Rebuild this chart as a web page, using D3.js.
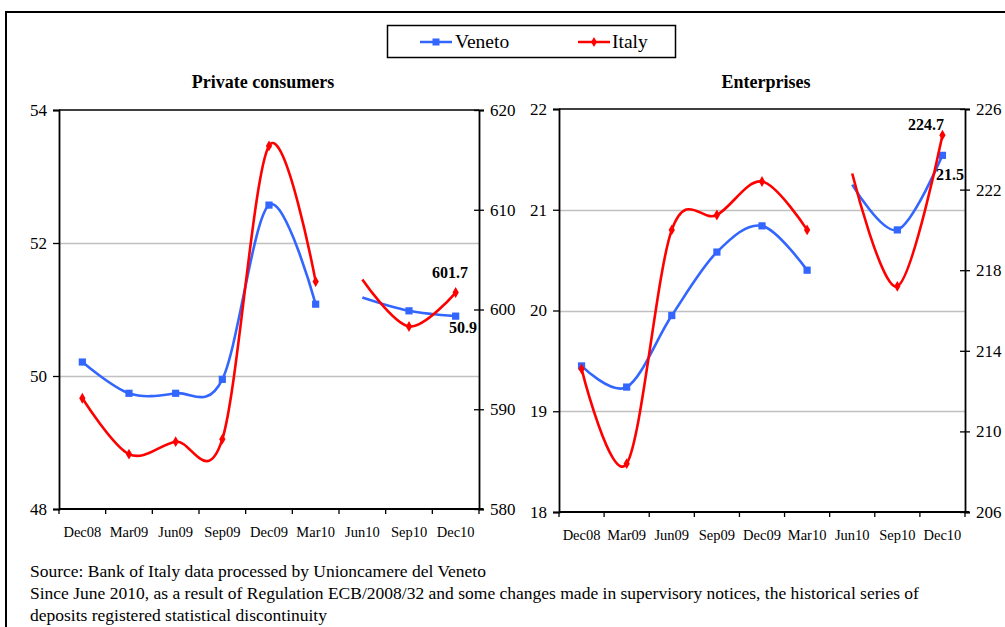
<!DOCTYPE html>
<html>
<head>
<meta charset="utf-8">
<script src="https://cdn.jsdelivr.net/npm/d3@7"></script>
<style>
  body { margin: 0; background: #fff; }
  svg text { font-family: "Liberation Serif", "DejaVu Serif", serif; }
</style>
</head>
<body>
<div id="chart"></div>
<script>
// quarters on the x axis
var quarters = ["Dec08", "Mar09", "Jun09", "Sep09", "Dec09", "Mar10", "Jun10", "Sep10", "Dec10"];

// private consumers (Veneto on left axis, Italy on right axis)
var consVeneto = [50.21, 49.74, 49.74, 49.95, 52.57, 51.08, 51.18, 50.98, 50.9];
var consItaly  = [591.1, 585.5, 586.75, 587.0, 616.4, 602.8, 603.0, 598.3, 601.7];

// enterprises
var entVeneto = [19.45, 19.24, 19.95, 20.58, 20.84, 20.40, 21.25, 20.8, 21.54];
var entItaly  = [213.1, 208.4, 220.0, 220.74, 222.4, 220.0, 222.8, 217.2, 224.7];

// series break (regulation ECB/2008/32): new series starts at Jun10
var breakAt = 6;

var leftTicks1 = [48, 50, 52, 54], rightTicks1 = [580, 590, 600, 610, 620];
var leftTicks2 = [18, 19, 20, 21, 22], rightTicks2 = [206, 210, 214, 218, 222, 226];

var blue = "#3366ff", red = "#ff0000";
var serif = "Liberation Serif, DejaVu Serif, serif";

var width = 1005, height = 627;

var svg = d3.select("#chart").append("svg")
    .attr("width", width)
    .attr("height", height)
    .attr("font-family", serif);

// outer frame
svg.append("path")
    .attr("d", "M6,627V12H1005")
    .attr("fill", "none")
    .attr("stroke", "#000")
    .attr("stroke-width", 2);

// legend
var leg = svg.append("g");
leg.append("rect")
    .attr("x", 387.5).attr("y", 25.5).attr("width", 288).attr("height", 32)
    .attr("fill", "#fff").attr("stroke", "#000").attr("stroke-width", 1.5);
leg.append("line").attr("x1", 420).attr("x2", 452).attr("y1", 42).attr("y2", 42)
    .attr("stroke", blue).attr("stroke-width", 2.5);
leg.append("rect").attr("x", 432.5).attr("y", 38.5).attr("width", 7).attr("height", 7).attr("fill", blue);
leg.append("text").attr("x", 455).attr("y", 48).attr("font-size", 19.5).text("Veneto");
leg.append("line").attr("x1", 578).attr("x2", 610).attr("y1", 42).attr("y2", 42)
    .attr("stroke", red).attr("stroke-width", 2.5);
leg.append("path").attr("d", d3.symbol(d3.symbolDiamond, 30)()).attr("transform", "translate(594,42)").attr("fill", red);
leg.append("text").attr("x", 612).attr("y", 48).attr("font-size", 19.5).text("Italy");

// draws one panel with two y axes
function drawPanel(opt) {
  var g = svg.append("g");

  var x = d3.scaleBand().domain(quarters).range([opt.x0, opt.x1]);
  var yL = d3.scaleLinear().domain(d3.extent(opt.leftTicks)).range([opt.yBot, opt.yTop]);
  var yR = d3.scaleLinear().domain(d3.extent(opt.rightTicks)).range([opt.yBot, opt.yTop]);

  // title
  g.append("text")
      .attr("x", opt.titleX)
      .attr("y", 88)
      .attr("text-anchor", "middle")
      .attr("font-size", 18)
      .attr("font-weight", "bold")
      .text(opt.title);

  // gridlines
  g.selectAll(".grid")
    .data(opt.leftTicks.slice(1, -1))
    .enter().append("line")
      .attr("x1", opt.x0).attr("x2", opt.x1)
      .attr("y1", function(d) { return Math.round(yL(d)) + 0.5; })
      .attr("y2", function(d) { return Math.round(yL(d)) + 0.5; })
      .attr("stroke", "#c0c0c0")
      .attr("stroke-width", 1.3);

  // top border
  g.append("line")
      .attr("x1", opt.x0).attr("x2", opt.x1)
      .attr("y1", opt.yTop).attr("y2", opt.yTop)
      .attr("stroke", "#000").attr("stroke-width", 1.5);

  // left axis
  var axL = g.append("g")
      .attr("transform", "translate(" + opt.x0 + ",0)")
      .call(d3.axisLeft(yL).tickValues(opt.leftTicks).tickFormat(d3.format("d")).tickSize(6).tickPadding(6));
  // right axis, ticks cross the line
  var axR = g.append("g")
      .attr("transform", "translate(" + opt.x1 + ",0)")
      .call(d3.axisRight(yR).tickValues(opt.rightTicks).tickFormat(d3.format("d")).tickSize(5).tickPadding(6));
  axR.selectAll(".tick line").attr("x1", -5);
  // bottom axis with ticks on the category boundaries
  var axB = g.append("g")
      .attr("transform", "translate(0," + opt.yBot + ")")
      .call(d3.axisBottom(x).tickSize(0).tickPadding(18));
  g.selectAll(".xtick")
    .data(d3.range(quarters.length + 1))
    .enter().append("line")
      .attr("x1", function(i) { return opt.x0 + i * x.step(); })
      .attr("x2", function(i) { return opt.x0 + i * x.step(); })
      .attr("y1", opt.yBot).attr("y2", opt.yBot + 5)
      .attr("stroke", "#000").attr("stroke-width", 1.3);

  [axL, axR, axB].forEach(function(a) {
    a.attr("font-family", serif);
    a.select(".domain").attr("stroke-width", 1.8);
    a.selectAll(".tick line").attr("stroke-width", 1.3);
    a.selectAll("text").attr("fill", "#000");
  });
  axL.attr("font-size", 17);
  axR.attr("font-size", 17);
  axB.attr("font-size", 14.5);
  axB.select(".domain").attr("d", "M" + opt.x0 + ",0H" + (opt.x1 + 4));

  var cx = function(i) { return x(quarters[i]) + x.bandwidth() / 2; };

  // one series: two segments split at the break, smoothed like the original
  function series(values, y, color, marker) {
    var line = d3.line()
        .x(function(d) { return cx(d.i); })
        .y(function(d) { return y(d.v); })
        .curve(d3.curveCardinal.tension(0));
    var pts = values.map(function(v, i) { return {i: i, v: v}; });
    [pts.slice(0, breakAt), pts.slice(breakAt)].forEach(function(seg) {
      g.append("path")
          .attr("d", line(seg))
          .attr("fill", "none")
          .attr("stroke", color)
          .attr("stroke-width", 2.6);
    });
    var shown = pts.filter(function(d) { return d.i !== breakAt; });
    g.selectAll(null)
      .data(shown)
      .enter().append("path")
        .attr("d", d3.symbol(marker, marker === d3.symbolSquare ? 52 : 34)())
        .attr("transform", function(d) { return "translate(" + cx(d.i) + "," + y(d.v) + ")"; })
        .attr("fill", color);
  }

  series(opt.veneto, yL, blue, d3.symbolSquare);
  series(opt.italy, yR, red, d3.symbolDiamond);

  // last value labels
  opt.labels.forEach(function(l) {
    g.append("text")
        .attr("x", l.x).attr("y", l.y)
        .attr("text-anchor", "middle")
        .attr("font-size", 16)
        .attr("font-weight", "bold")
        .text(l.text);
  });
}

drawPanel({
  title: "Private consumers", titleX: 263,
  x0: 59, x1: 479, yTop: 110, yBot: 509,
  leftTicks: leftTicks1, rightTicks: rightTicks1,
  veneto: consVeneto, italy: consItaly,
  labels: [
    {text: d3.format(".1f")(consItaly[8]), x: 450, y: 278},
    {text: d3.format(".1f")(consVeneto[8]), x: 463, y: 333}
  ]
});

drawPanel({
  title: "Enterprises", titleX: 766,
  x0: 559, x1: 965, yTop: 109, yBot: 512,
  leftTicks: leftTicks2, rightTicks: rightTicks2,
  veneto: entVeneto, italy: entItaly,
  labels: [
    {text: d3.format(".1f")(entItaly[8]), x: 926, y: 130},
    {text: d3.format(".1f")(entVeneto[8]), x: 950, y: 180}
  ]
});

// notes
var notes = [
  "Source: Bank of Italy data processed by Unioncamere del Veneto",
  "Since June 2010, as a result of Regulation ECB/2008/32 and some changes made in supervisory notices, the historical series of",
  "deposits registered statistical discontinuity"
];
svg.selectAll(".note")
  .data(notes)
  .enter().append("text")
    .attr("x", 30)
    .attr("y", function(d, i) { return 577 + i * 22; })
    .attr("font-size", 17.5)
    .text(function(d) { return d; });
</script>
</body>
</html>
